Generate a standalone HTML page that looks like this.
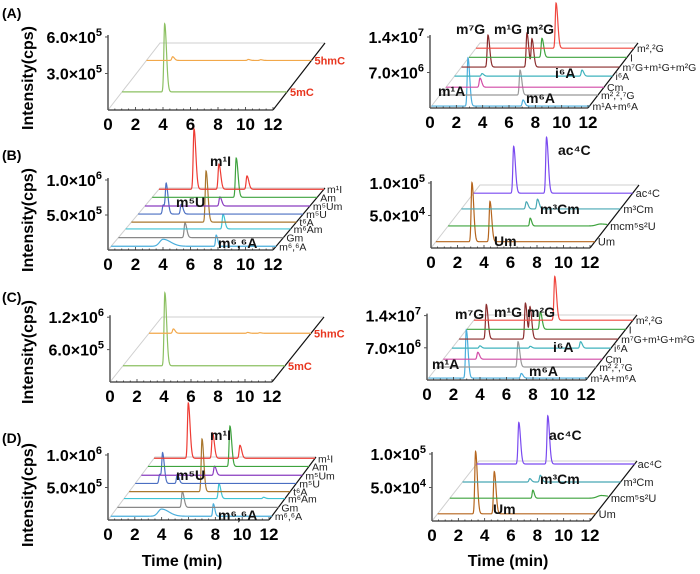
<!DOCTYPE html>
<html><head><meta charset="utf-8"><style>
html,body{margin:0;padding:0;background:#fff;}
svg{display:block;font-family:"Liberation Sans",Arial,sans-serif;}
</style></head><body>
<svg id="fig" width="700" height="574" viewBox="0 0 700 574" xmlns="http://www.w3.org/2000/svg">
<text x="2" y="18" font-size="14" font-weight="bold">(A)</text>
<text x="2" y="160" font-size="14" font-weight="bold">(B)</text>
<text x="2" y="302" font-size="14" font-weight="bold">(C)</text>
<text x="2" y="443" font-size="14" font-weight="bold">(D)</text>
<text transform="translate(33,78) rotate(-90)" text-anchor="middle" font-size="16" font-weight="bold">Intensity(cps)</text>
<text transform="translate(33,220) rotate(-90)" text-anchor="middle" font-size="16" font-weight="bold">Intensity(cps)</text>
<text transform="translate(33,352) rotate(-90)" text-anchor="middle" font-size="16" font-weight="bold">Intensity(cps)</text>
<text transform="translate(33,495) rotate(-90)" text-anchor="middle" font-size="16" font-weight="bold">Intensity(cps)</text>
<text x="182" y="566" text-anchor="middle" font-size="16" font-weight="bold">Time (min)</text>
<text x="508" y="566" text-anchor="middle" font-size="16" font-weight="bold">Time (min)</text>
</svg>
<script>
// ---- data: series names, peak times (min), peak heights (axis units), peak widths ----
const aLeftNames = ["5mC", "5hmC"];
const aLeftTimes = [[3.1], [1.9, 7.4, 8.3]];
const aLeftHeights = [[5.6], [0.3, 0.08, 0.06]];

const aRightNames = ["m¹A+m⁶A", "m²,²,⁷G", "Cm", "i⁶A", "m⁷G+m¹G+m²G", "I", "m²,²G"];
const aRightTimes = [[2.77, 6.95], [6.08], [2.58], [2.09, 9.68], [2.01, 4.97, 5.35], [5.54], [6.08]];
const aRightHeights = [[9.5, 1.2], [4.9], [1.8], [0.5, 1.2], [6.3, 6.7, 5.5], [3.75], [8.9]];

const bLeftNames = ["m⁶,⁶A", "Gm", "m⁶Am", "t⁶A", "m⁵U", "m⁵Um", "Am", "m¹I"];
const bLeftTimes = [[3.78, 7.64], [4.84], [7.08], [5.43], [1.82, 2.04, 3.13], [5.45], [6.11], [2.55, 4.36, 6.4]];
const bLeftHeights = [[1.0, 1.6], [2.1], [2.1], [7.3], [1.3, 4.1, 1.4], [1.3], [5.6], [8.6, 3.6, 1.9]];

const bRightNames = ["Um", "mcm⁵s²U", "m³Cm", "ac⁴C"];
const bRightTimes = [[2.72, 4.08], [6.19, 11.5], [4.9, 5.74], [3.02, 5.5]];
const bRightHeights = [[9.1, 6.2], [1.2, 0.3], [1.1, 1.5], [7.2, 8.6]];

const cLeftNames = ["5mC", "5hmC"];
const cLeftTimes = [[3.1], [1.8, 7.3, 8.2]];
const cLeftHeights = [[13.5], [0.8, 0.15, 0.1]];

const cRightNames = ["m¹A+m⁶A", "m²,²,⁷G", "Cm", "i⁶A", "m⁷G+m¹G+m²G", "I", "m²,²G"];
const cRightTimes = [[2.85, 7.0], [6.1], [2.6], [2.1, 5.9, 9.7], [2.05, 5.0, 5.35], [5.55], [6.1]];
const cRightHeights = [[10.5, 1.0], [5.5], [1.5], [0.5, 0.4, 1.4], [7.5, 7.8, 6.8], [3.8], [9.5]];

const dLeftNames = ["m⁶,⁶A", "Gm", "m⁶Am", "t⁶A", "m⁵U", "m⁵Um", "Am", "m¹I"];
const dLeftTimes = [[3.78, 7.64], [4.84], [7.08, 10.4], [5.43], [1.82, 2.04, 3.13], [5.45], [6.11], [2.55, 4.36, 6.4]];
const dLeftHeights = [[1.1, 1.9], [2.4], [2.3, 0.2], [8.1], [1.4, 4.4, 1.4], [1.4], [6.2], [8.5, 3.9, 2.0]];

const dRightNames = ["Um", "mcm⁵s²U", "m³Cm", "ac⁴C"];
const dRightTimes = [[2.88, 4.3], [6.3, 11.5], [5.1, 5.9], [3.2, 5.4]];
const dRightHeights = [[9.3, 6.3], [1.2, 0.4], [0.5, 1.0], [6.2, 7.2]];

const xTickLabels = ["0", "2", "4", "6", "8", "10", "12"];

// ---- styles / layout ----
const svg = document.getElementById('fig');
const NS = 'http://www.w3.org/2000/svg';
function mk(tag, attrs){ const e = document.createElementNS(NS, tag); for (const k in attrs) e.setAttribute(k, attrs[k]); return e; }

function drawPanel(p){
  const g = mk('g', {});
  
  
  svg.appendChild(g);
  const xOf = (t, d) => p.ox + t / 12 * p.W + d * p.dx;
  const yOf = (v, d) => p.oy + d * p.dy - v * p.ppu;
  const floor = mk('path', {d: `M${p.ox},${p.oy} L${p.ox + p.dx},${p.oy + p.dy} L${p.ox + p.W + p.dx},${p.oy + p.dy}`, fill: 'none', stroke: '#cfcfcf', 'stroke-width': 1});
  
  
  g.appendChild(floor);
  const redge = mk('line', {x1: p.ox + p.W, y1: p.oy, x2: p.ox + p.W + p.dx, y2: p.oy + p.dy, stroke: '#111', 'stroke-width': 1.2});
  
  
  g.appendChild(redge);
  for (let s = 0; s < p.names.length; s++) {
    const d = p.depths[s];
    const times = p.times[s], hts = p.heights[s];
    let pts = [];
    for (let i = 0; i <= 1200; i++) {
      const t = i / 100;
      let v = 0;
      for (let k = 0; k < times.length; k++) {
        const w = (p.widths && p.widths[s] && p.widths[s][k]) || 0.06;
        const dt = t - times[k];
        const sg = dt < 0 ? w : w * 2.2;
        v += hts[k] * Math.exp(-0.5 * (dt / sg) * (dt / sg));
      }
      pts.push(xOf(t, d).toFixed(2) + ',' + yOf(v, d).toFixed(2));
    }
    const pl = mk('polyline', {points: pts.join(' '), fill: 'none', stroke: p.colors[s], 'stroke-width': 1.2});
    
    
    g.appendChild(pl);
    const lb = mk('text', {x: xOf(12, d) + 3, y: yOf(0, d) + 4, 'font-size': p.lfs || 10.5, fill: p.lcol || '#222', 'font-weight': p.lbold ? 'bold' : 'normal'});
    lb.textContent = p.names[s];
    
    
    g.appendChild(lb);
  }
  const xa = mk('line', {x1: p.ox, y1: p.oy, x2: p.ox + p.W, y2: p.oy, stroke: '#333', 'stroke-width': 1.2});
  
  
  g.appendChild(xa);
  for (let i = 0; i <= 24; i++) {
    const x = xOf(i / 2, 0);
    const tk = mk('line', {x1: x, y1: p.oy, x2: x, y2: p.oy - (i % 4 === 0 ? 3 : 1.5), stroke: '#333', 'stroke-width': 0.8});
    
    
    g.appendChild(tk);
  }
  xTickLabels.forEach((lab, i) => {
    const t = mk('text', {x: xOf(+lab, 0), y: p.oy + 20, 'text-anchor': 'middle', 'font-size': 17, 'font-weight': 'bold'});
    t.textContent = lab;
    
    
    g.appendChild(t);
  });
  const top = p.yTicks[p.yTicks.length - 1] * p.ppu + 2;
  const ya = mk('line', {x1: p.ox, y1: p.oy, x2: p.ox, y2: p.oy - top, stroke: '#555', 'stroke-width': 1.5});
  
  
  g.appendChild(ya);
  p.yTicks.forEach((v, i) => {
    const y = p.oy - v * p.ppu;
    const tk = mk('line', {x1: p.ox - 3, y1: y, x2: p.ox, y2: y, stroke: '#555'});
    
    
    g.appendChild(tk);
    const t = mk('text', {x: p.ox - 6, y: y + 6, 'text-anchor': 'end', 'font-size': 16, 'font-weight': 'bold'});
    t.innerHTML = p.yMant[i] + '×10<tspan dy="-7" font-size="11">' + p.yExp[i] + '</tspan>';
    
    
    g.appendChild(t);
  });
  (p.ann || []).forEach(a => {
    const t = mk('text', {x: a[1], y: a[2], 'font-size': a[3] || 14, 'font-weight': 'bold', fill: a[4] || '#111'});
    t.textContent = a[0];
    
    
    g.appendChild(t);
  });
}

const colA = ['#8cc062', '#f2a84a'];
const colAR = ['#4aaedc', '#999999', '#d24aa6', '#3fb3bd', '#8a2b2b', '#3ea33e', '#f0473f'];
const colBL = ['#4aaedc', '#888888', '#3fc3d3', '#a9772e', '#4b6fc2', '#8a3cc0', '#3ea33e', '#ee3b33'];
const colBR = ['#b5651d', '#3ea33e', '#47a8b5', '#7a4af0'];

drawPanel({name:'panel-a-left', ox:108, oy:110, W:165, dx:52, dy:-67, ppu:12.17, yTicks:[3,6], yMant:['3.0','6.0'], yExp:['5','5'],
  names:aLeftNames, times:aLeftTimes, heights:aLeftHeights, depths:[0.27,0.74], colors:colA, lfs:11, lcol:'#e8361f', lbold:true});
drawPanel({name:'panel-a-right', ox:430, oy:108, W:158, dx:50, dy:-65, ppu:5.07, yTicks:[7,14], yMant:['7.0','1.4'], yExp:['6','7'],
  names:aRightNames, times:aRightTimes, heights:aRightHeights, depths:[0.03,0.2,0.32,0.49,0.63,0.78,0.92], colors:colAR,
  ann:[['m⁷G',456,34],['m¹G',494,34],['m²G',526,34],['i⁶A',555,78],['m¹A',438,96],['m⁶A',526,103]]});
drawPanel({name:'panel-b-left', ox:108, oy:250, W:165, dx:52, dy:-62, ppu:7, yTicks:[5,10], yMant:['5.0','1.0'], yExp:['5','6'],
  names:bLeftNames, times:bLeftTimes, heights:bLeftHeights, depths:[0.06,0.2,0.34,0.45,0.58,0.71,0.85,0.98], colors:colBL,
  widths:[[0.25,0.05]],
  ann:[['m¹I',210,166],['m⁵U',176,207],['m⁶,⁶A',218,248]]});
drawPanel({name:'panel-b-right', ox:431, oy:248, W:159, dx:49, dy:-63, ppu:6.5, yTicks:[5,10], yMant:['5.0','1.0'], yExp:['4','5'],
  names:bRightNames, times:bRightTimes, heights:bRightHeights, depths:[0.1,0.35,0.62,0.87], colors:colBR, lfs:11,
  widths:[null,[0.05,0.3]],
  ann:[['ac⁴C',558,155],['m³Cm',540,214],['Um',494,246]]});
drawPanel({name:'panel-c-left', ox:110, oy:382, W:162, dx:52, dy:-65, ppu:5.4, yTicks:[6,12], yMant:['6.0','1.2'], yExp:['5','6'],
  names:cLeftNames, times:cLeftTimes, heights:cLeftHeights, depths:[0.25,0.75], colors:colA, lfs:11, lcol:'#e8361f', lbold:true});
drawPanel({name:'panel-c-right', ox:427, oy:380, W:159, dx:51, dy:-65, ppu:4.6, yTicks:[7,14], yMant:['7.0','1.4'], yExp:['6','7'],
  names:cRightNames, times:cRightTimes, heights:cRightHeights, depths:[0.03,0.2,0.32,0.49,0.63,0.78,0.92], colors:colAR,
  ann:[['m⁷G',455,319],['m¹G',494,317],['m²G',527,317],['i⁶A',553,352],['m¹A',432,369],['m⁶A',529,376]]});
drawPanel({name:'panel-d-left', ox:108, oy:520, W:161, dx:47, dy:-63, ppu:6.5, yTicks:[5,10], yMant:['5.0','1.0'], yExp:['5','6'],
  names:dLeftNames, times:dLeftTimes, heights:dLeftHeights, depths:[0.06,0.2,0.34,0.45,0.58,0.71,0.85,0.98], colors:colBL,
  widths:[[0.25,0.05]],
  ann:[['m¹I',210,440],['m⁵U',176,480],['m⁶,⁶A',218,520]]});
drawPanel({name:'panel-d-right', ox:432, oy:521, W:158, dx:47, dy:-60, ppu:6.7, yTicks:[5,10], yMant:['5.0','1.0'], yExp:['4','5'],
  names:dRightNames, times:dRightTimes, heights:dRightHeights, depths:[0.12,0.38,0.65,0.95], colors:colBR, lfs:11,
  widths:[null,[0.05,0.3]],
  ann:[['ac⁴C',549,440],['m³Cm',540,484],['Um',493,514]]});
</script>
</body></html>
